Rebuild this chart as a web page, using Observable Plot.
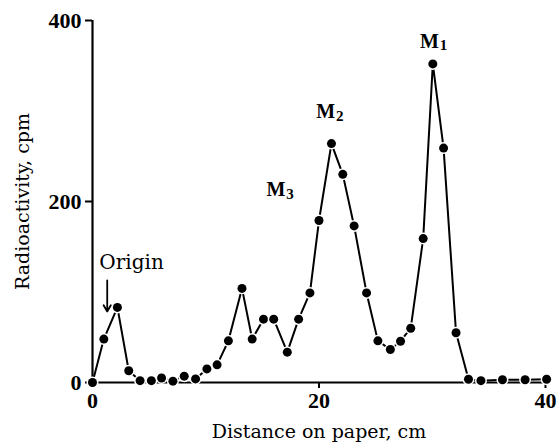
<!DOCTYPE html>
<html><head><meta charset="utf-8">
<script src="https://cdn.jsdelivr.net/npm/d3@7"></script>
<script src="https://cdn.jsdelivr.net/npm/@observablehq/plot@0.6"></script>
<style>body{margin:0;background:#fff}</style>
</head><body><div id="chart"></div>
<script>
const distance = [0,1.0,2.2,3.2,4.2,5.2,6.1,7.1,8.1,9.1,10.1,11.0,12.0,13.2,14.1,15.1,16.0,17.2,18.2,19.2,20.0,21.1,22.1,23.1,24.2,25.2,26.3,27.2,28.1,29.2,30.05,31.0,32.1,33.2,34.3,36.2,38.2,40.1];
const cpm = [0,48,83,13,2,2,5,1.5,7,4,15,19.5,46,104,48,70,70,33.5,70,99,179,264,230,173,99,46,36.5,45.6,60,159,352,259,55,3.6,2,3,3,3.6];
const xTicks = [0,20,40];
const yTicks = [0,200,400];
const peakNames = ["M","M","M"];
const peakSubs = ["1","2","3"];
const peakX = [29.76,20.6,16.2];
const peakY = [377,299,212.7];
const originLabel = "Origin";
const originX = 3.45, originY = 132.6;
const arrowX = 1.3, arrowY1 = 112.7, arrowY2 = 78.5;

const pts = distance.map((d,i)=>({x:d,y:cpm[i]}));
const peaks = peakNames.map((m,i)=>({x:peakX[i],y:peakY[i],m,s:peakSubs[i]}));
const serifBold = "Liberation Serif, Times New Roman, serif";
const serif = "DejaVu Serif, serif";

const chart = Plot.plot({
  width: 558, height: 447,
  marginLeft: 92, marginRight: 13, marginTop: 20, marginBottom: 65,
  style: {fontFamily: serifBold, background: "#fff", color: "#000"},
  x: {domain: [0,40]},
  y: {domain: [0,400]},
  marks: [
    Plot.axisY(yTicks, {tickSize: 7, tickPadding: 4, fontSize: 22, fontWeight: "bold", label: null, strokeWidth: 2}),
    Plot.axisX(xTicks, {tickSize: 6, tickPadding: 4, fontSize: 22, fontWeight: "bold", label: null, strokeWidth: 2}),
    Plot.ruleX([0], {y1: 0, y2: 400, strokeWidth: 2.2}),
    Plot.ruleY([0], {x1: 0, x2: 40, strokeWidth: 2.2}),
    Plot.line(pts, {x: "x", y: "y", stroke: "#000", strokeWidth: 2}),
    Plot.dot(pts, {x: "x", y: "y", r: 4.5, fill: "#000", stroke: "#fff", strokeWidth: 3, paintOrder: "stroke"}),
    Plot.text(peaks, {x: "x", y: "y", text: "m", fontSize: 20, fontWeight: "bold"}),
    Plot.text(peaks, {x: "x", y: "y", text: "s", fontSize: 15, fontWeight: "bold", dx: 14, dy: 4}),
    Plot.text([originLabel], {x: originX, y: originY, text: d => d, fontSize: 20, fontFamily: serif}),
    Plot.arrow([0], {x1: arrowX, x2: arrowX, y1: arrowY1, y2: arrowY2, strokeWidth: 1.8, headLength: 6}),
    Plot.text(["Distance on paper, cm"], {frameAnchor: "bottom", dy: 55, fontSize: 19, fontFamily: serif}),
    Plot.text(["Radioactivity, cpm"], {frameAnchor: "left", textAnchor: "middle", rotate: -90, dx: -70, fontSize: 19, fontFamily: serif})
  ]
});
document.getElementById("chart").append(chart);
</script>
</body></html>
